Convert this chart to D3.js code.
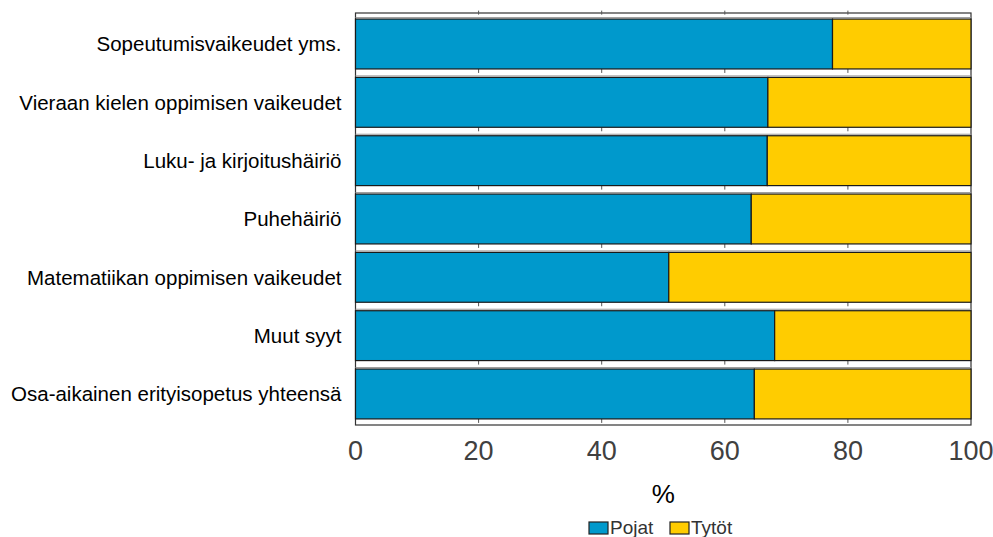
<!DOCTYPE html>
<html>
<head>
<meta charset="utf-8">
<script src="https://cdn.jsdelivr.net/npm/d3@7"></script>
<style>
  body { margin: 0; background: #fff; }
  svg { display: block; font-family: "Liberation Sans", Arial, sans-serif; }
</style>
</head>
<body>
<svg id="chart" width="993" height="537"></svg>
<script>
// categories top to bottom, share of boys (Pojat) in %
var categories = [
  "Sopeutumisvaikeudet yms.",
  "Vieraan kielen oppimisen vaikeudet",
  "Luku- ja kirjoitushäiriö",
  "Puhehäiriö",
  "Matematiikan oppimisen vaikeudet",
  "Muut syyt",
  "Osa-aikainen erityisopetus yhteensä"
];
var pojat = [77.5, 67.0, 66.9, 64.3, 50.9, 68.1, 64.8];
var tytot = pojat.map(function(p){ return 100 - p; }); // rest of the 100 %
var seriesNames = ["Pojat", "Tytöt"];
var colors = ["#0099cc", "#ffcc00"];
var xTicks = [0, 20, 40, 60, 80, 100];

var svg = d3.select("#chart");
var m = {left: 355.5, right: 971, top: 13, bottom: 425};

var x = d3.scaleLinear().domain([0, 100]).range([m.left, m.right]);
var y = d3.scaleBand().domain(categories).range([m.top + 2, m.bottom - 2]).paddingInner(0.145).paddingOuter(0.07);

// stacked data
var stack = categories.map(function(c, i){
  return [
    {cat: c, x0: 0, x1: pojat[i], s: 0},
    {cat: c, x0: pojat[i], x1: pojat[i] + tytot[i], s: 1}
  ];
});

// plot frame
svg.append("rect")
  .attr("x", m.left).attr("y", m.top)
  .attr("width", m.right - m.left).attr("height", m.bottom - m.top)
  .attr("fill", "#fff").attr("stroke", "#333").attr("stroke-width", 1.2);

// small grid ticks in the gaps between bars
var gaps = categories.map(function(c){ return y(c) + y.bandwidth(); });
gaps.unshift(y(categories[0]) - y.step() * y.paddingInner());
svg.append("g").selectAll("line")
  .data(d3.cross(xTicks.slice(1, -1), gaps))
  .enter().append("line")
  .attr("x1", function(d){ return x(d[0]); })
  .attr("x2", function(d){ return x(d[0]); })
  .attr("y1", function(d){ return d[1]; })
  .attr("y2", function(d){ return d[1] + 4; })
  .attr("stroke", "#555").attr("stroke-width", 1);

// gray line above each bar
svg.append("g").selectAll("line")
  .data(categories)
  .enter().append("line")
  .attr("x1", m.left).attr("x2", m.right)
  .attr("y1", function(d){ return y(d) - 1.5; })
  .attr("y2", function(d){ return y(d) - 1.5; })
  .attr("stroke", "#999").attr("stroke-width", 1);

// bars
svg.append("g").selectAll("g")
  .data(stack)
  .enter().append("g")
  .selectAll("rect")
  .data(function(d){ return d; })
  .enter().append("rect")
  .attr("x", function(d){ return x(d.x0); })
  .attr("y", function(d){ return y(d.cat); })
  .attr("width", function(d){ return x(d.x1) - x(d.x0); })
  .attr("height", y.bandwidth())
  .attr("fill", function(d){ return colors[d.s]; })
  .attr("stroke", "#1a1a1a").attr("stroke-width", 1.2);

// category labels
svg.append("g").selectAll("text")
  .data(categories)
  .enter().append("text")
  .attr("x", m.left - 14)
  .attr("y", function(d){ return y(d) + y.bandwidth() / 2; })
  .attr("dy", "0.35em")
  .attr("text-anchor", "end")
  .attr("font-size", 20.5)
  .attr("fill", "#000")
  .text(function(d){ return d; });

// x axis tick labels
svg.append("g").selectAll("text")
  .data(xTicks)
  .enter().append("text")
  .attr("x", function(d){ return x(d); })
  .attr("y", 460)
  .attr("text-anchor", "middle")
  .attr("font-size", 27)
  .attr("fill", "#404040")
  .text(function(d){ return d; });

svg.append("text")
  .attr("x", x(50)).attr("y", 503)
  .attr("text-anchor", "middle")
  .attr("font-size", 26).attr("fill", "#000")
  .text("%");

// legend
var lg = svg.append("g").attr("transform", "translate(589,534)");
var item = lg.selectAll("g").data(seriesNames).enter().append("g")
  .attr("transform", function(d, i){ return "translate(" + (i * 81) + ",0)"; });
item.append("rect")
  .attr("x", 0).attr("y", -12).attr("width", 19).attr("height", 12)
  .attr("fill", function(d, i){ return colors[i]; })
  .attr("stroke", "#222").attr("stroke-width", 1.2);
item.append("text")
  .attr("x", 21).attr("y", 0)
  .attr("font-size", 19).attr("fill", "#333")
  .text(function(d){ return d; });
</script>
</body>
</html>
